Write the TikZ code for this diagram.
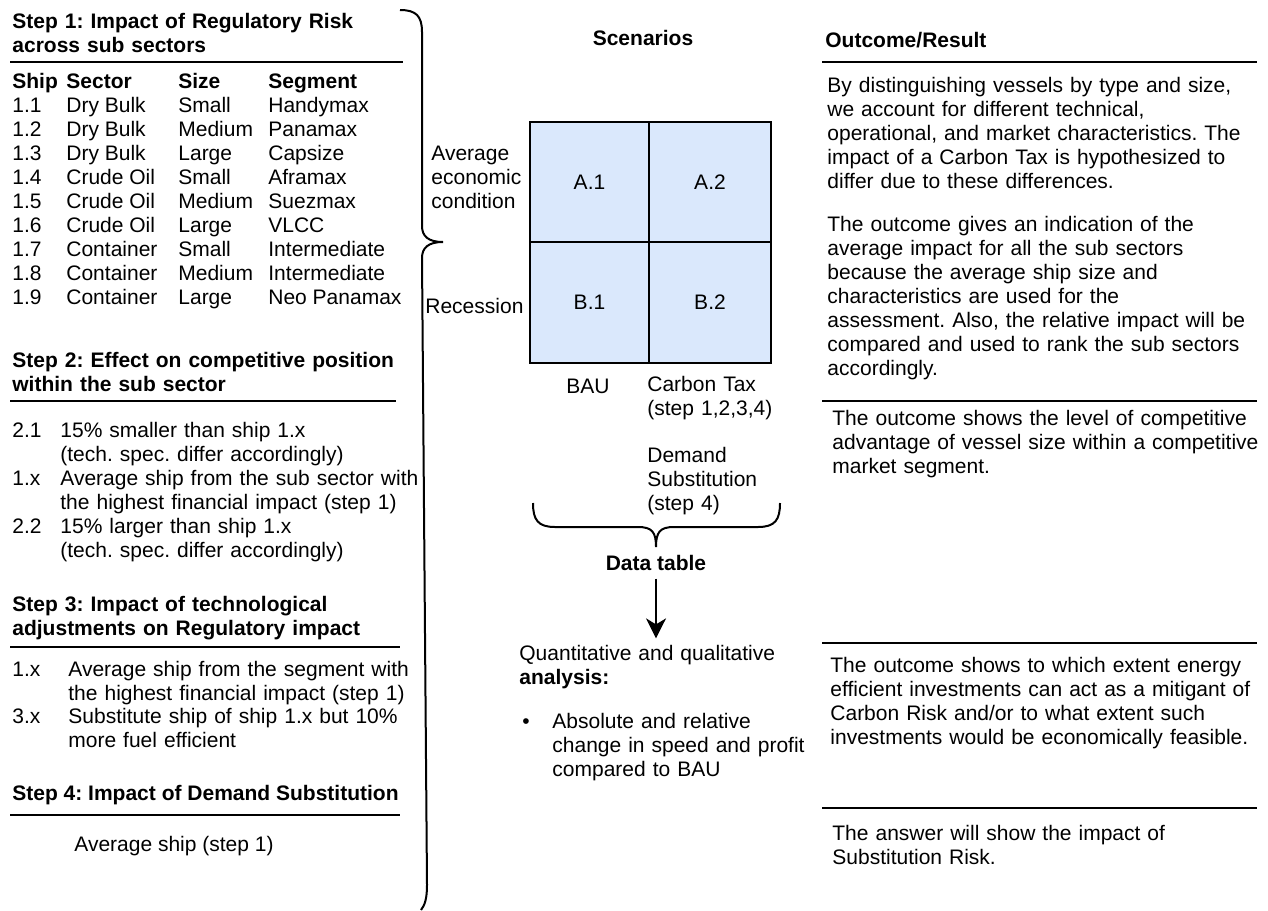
\documentclass[tikz,border=0pt]{standalone}
\usepackage{fontspec}
\setmainfont{Liberation Sans}
\frenchspacing
\usetikzlibrary{arrows.meta}
\definecolor{cellblue}{HTML}{DAE8FC}
\tikzset{
  txt/.style={anchor=base west, inner sep=0pt, font=\fontsize{10.5}{12}\selectfont},
  hdr/.style={txt, font=\fontsize{10.5}{12}\selectfont\bfseries},
  blk/.style={txt, align=left, text width=230pt},
  hblk/.style={hdr, align=left, text width=230pt},
  rule/.style={line width=1pt},
  brace/.style={line width=1pt},
  cell/.style={draw, fill=cellblue, line width=1pt, inner sep=0pt, minimum width=59.5pt, minimum height=60.5pt, font=\fontsize{10.5}{12}\selectfont}
}
\begin{document}
\begin{tikzpicture}[x=0.5pt,y=-0.5pt]
\useasboundingbox (0,0) rectangle (1268,910);

% Step 1
\node[hblk] (step1) at (12,28) {Step 1: Impact of Regulatory Risk\\across sub sectors};
\draw[rule] (10,62) -- (403,62);
\node[hdr] (hship) at (12,88) {Ship};
\node[hdr] (hsector) at (66,88) {Sector};
\node[hdr] (hsize) at (178,88) {Size};
\node[hdr] (hseg) at (268,88) {Segment};
\foreach \n/\s/\z/\g [count=\i] in {1.1/Dry Bulk/Small/Handymax, 1.2/Dry Bulk/Medium/Panamax,
    1.3/Dry Bulk/Large/Capsize, 1.4/Crude Oil/Small/Aframax, 1.5/Crude Oil/Medium/Suezmax,
    1.6/Crude Oil/Large/VLCC, 1.7/Container/Small/Intermediate, 1.8/Container/Medium/Intermediate,
    1.9/Container/Large/Neo Panamax}{
  \node[txt] (no\i) at (12,{88+24*\i}) {\n};
  \node[txt] (sec\i) at (66,{88+24*\i}) {\s};
  \node[txt] (siz\i) at (178,{88+24*\i}) {\z};
  \node[txt] (seg\i) at (268,{88+24*\i}) {\g};
}

% Step 2
\node[hblk] (step2) at (12,367) {Step 2: Effect on competitive position\\within the sub sector};
\draw[rule] (10,401) -- (396,401);
\node[txt] (n21) at (12,437) {2.1};
\node[blk] (t21) at (60,437) {15\% smaller than ship 1.x\\(tech. spec. differ accordingly)};
\node[txt] (n1x) at (12,485) {1.x};
\node[blk] (t1x) at (60,485) {Average ship from the sub sector with\\the highest financial impact (step 1)};
\node[txt] (n22) at (12,533) {2.2};
\node[blk] (t22) at (60,533) {15\% larger than ship 1.x\\(tech. spec. differ accordingly)};

% Step 3
\node[hblk] (step3) at (12,611) {Step 3: Impact of technological\\adjustments on Regulatory impact};
\draw[rule] (10,647) -- (400,647);
\node[txt] (m1x) at (12,676) {1.x};
\node[blk] (u1x) at (68,676) {Average ship from the segment with\\the highest financial impact (step 1)};
\node[txt] (m3x) at (12,723) {3.x};
\node[blk] (u3x) at (68,723) {Substitute ship of ship 1.x but 10\%\\more fuel efficient};

% Step 4
\node[hdr] (step4) at (12,800) {Step 4: Impact of Demand Substitution};
\draw[rule] (10,815) -- (400,815);
\node[txt] (avg4) at (74,851) {Average ship (step 1)};

% big brace
\draw[brace] (400,10) .. controls (416,10) and (422,16) .. (422,32) -- (422,226)
  .. controls (422,236) and (428,242) .. (443,242)
  .. controls (428,242) and (422,248) .. (422,258) -- (427,885)
  .. controls (427,898) and (425,905) .. (421,910);

% scenarios
\node[hdr, anchor=base] (scen) at (643,45) {Scenarios};
\node[cell] (a1) at (589.5,182) {A.1};
\node[cell, minimum width=61pt] (a2) at (710,182) {A.2};
\node[cell] (b1) at (589.5,302.5) {B.1};
\node[cell, minimum width=61pt] (b2) at (710,302.5) {B.2};
\node[blk] (avgcond) at (431,160) {Average\\economic\\condition};
\node[txt] (recess) at (425,313) {Recession};
\node[txt, anchor=base] (bau) at (588,393) {BAU};
\node[blk] (ctax) at (647,391) {Carbon Tax\\(step 1,2,3,4)};
\node[blk] (dsub) at (647,462) {Demand\\Substitution\\(step 4)};
\draw[brace] (533,503) .. controls (533,520) and (538,527) .. (555,527) -- (638,527)
  .. controls (652,527) and (656,532) .. (656,547)
  .. controls (656,532) and (660,527) .. (674,527) -- (758,527)
  .. controls (775,527) and (780,520) .. (780,503);
\node[hdr, anchor=base] (data) at (656,570) {Data table};
\node[blk] (quant) at (519,660) {Quantitative and qualitative\\\textbf{analysis:}};
\node[txt, anchor=base] (bul) at (526,728) {•};
\node[blk] (absrel) at (552,728) {Absolute and relative\\change in speed and profit\\compared to BAU};
\draw[line width=1pt, -{Stealth[length=10pt, width=10pt, inset=3pt]}, shorten <=4pt, shorten >=3pt]
  (data.south) -- (data.south |- quant.north);

% outcome column
\node[hdr] (outc) at (825,47) {Outcome/Result};
\draw[rule] (822,62) -- (1257,62);
\node[blk] (res1) at (827,92) {By distinguishing vessels by type and size,\\we account for different technical,\\operational, and market characteristics. The\\impact of a Carbon Tax is hypothesized to\\differ due to these differences.};
\node[blk] (res1b) at (827,231) {The outcome gives an indication of the\\average impact for all the sub sectors\\because the average ship size and\\characteristics are used for the\\assessment. Also, the relative impact will be\\compared and used to rank the sub sectors\\accordingly.};
\draw[rule] (822,401) -- (1257,401);
\node[blk] (res2) at (832,425) {The outcome shows the level of competitive\\advantage of vessel size within a competitive\\market segment.};
\draw[rule] (822,643) -- (1257,643);
\node[blk] (res3) at (830,672) {The outcome shows to which extent energy\\efficient investments can act as a mitigant of\\Carbon Risk and/or to what extent such\\investments would be economically feasible.};
\draw[rule] (822,808) -- (1257,808);
\node[blk] (res4) at (832,840) {The answer will show the impact of\\Substitution Risk.};
\end{tikzpicture}
\end{document}
